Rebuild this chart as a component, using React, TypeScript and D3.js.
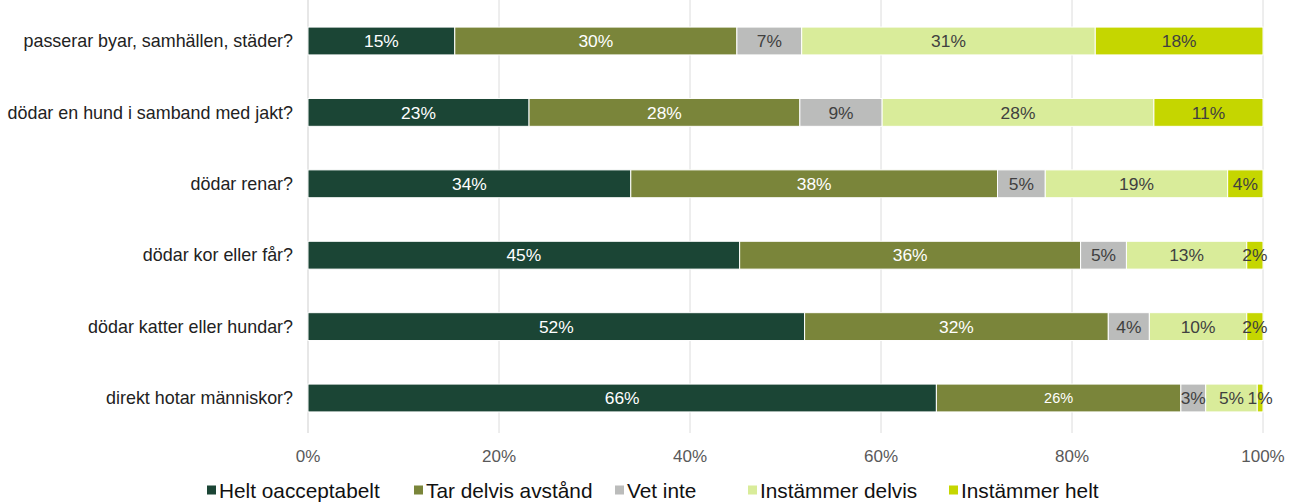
import React from "react";
import * as d3 from "d3";

const categories = [
  "passerar byar, samhällen, städer?",
  "dödar en hund i samband med jakt?",
  "dödar renar?",
  "dödar kor eller får?",
  "dödar katter eller hundar?",
  "direkt hotar människor?",
];
const seriesNames = [
  "Helt oacceptabelt",
  "Tar delvis avstånd",
  "Vet inte",
  "Instämmer delvis",
  "Instämmer helt",
];
const heltOacceptabelt = [15.4, 23.1, 33.8, 45.2, 52.0, 65.8];
const tarDelvisAvstand = [29.6, 28.3, 38.4, 35.7, 31.8, 25.6];
const vetInte = [6.8, 8.6, 5.0, 4.8, 4.3, 2.6];
const instammerDelvis = [30.8, 28.4, 19.1, 12.6, 10.2, 5.4];
const instammerHelt = [17.6, 11.4, 3.7, 1.7, 1.7, 0.6];
const tickValues = [0, 0.2, 0.4, 0.6, 0.8, 1.0];

const colors = ["#1b4535", "#7a853a", "#bbbcbb", "#d9ec9a", "#c5d600"];
const labelColors = ["#ffffff", "#ffffff", "#404040", "#404040", "#404040"];
// one label in the reference is drawn in a smaller size
const smallLabels = [{ row: 5, series: 1 }];

const W = 1298;
const H = 502;
const FONT = "'Liberation Sans', Arial, sans-serif";
const legendX = [207, 414, 615, 748, 949];

export default function App() {
  const series = [heltOacceptabelt, tarDelvisAvstand, vetInte, instammerDelvis, instammerHelt];
  const rows = categories.map((c, i) => {
    const vals = series.map((s) => s[i]);
    const total = d3.sum(vals);
    let acc = 0;
    const segs = vals.map((v, k) => {
      const x0 = acc / total;
      acc += v;
      return { k, v, x0, x1: acc / total };
    });
    return { c, segs };
  });

  const x = d3.scaleLinear().domain([0, 1]).range([308, 1263]);
  const y = d3
    .scaleBand<string>()
    .domain(categories)
    .range([5.3, 433.7])
    .paddingInner(0.61)
    .paddingOuter(0.305);
  const bh = y.bandwidth();

  return (
    <svg
      width={W}
      height={H}
      style={{ position: "absolute", left: 0, top: 0, background: "#fff" }}
      fontFamily={FONT}
    >
      {tickValues.map((t) => (
        <line
          key={"g" + t}
          x1={x(t)}
          x2={x(t)}
          y1={0}
          y2={433}
          stroke={t === 0 ? "#cfcfcf" : "#dcdcdc"}
          strokeWidth={1}
        />
      ))}
      {tickValues.map((t) => (
        <text
          key={"t" + t}
          x={x(t)}
          y={462}
          textAnchor="middle"
          fontSize={17}
          fill="#595959"
        >
          {d3.format(".0%")(t)}
        </text>
      ))}
      {rows.map((r, i) => {
        const yy = y(r.c)!;
        return (
          <g key={r.c}>
            <text
              x={293}
              y={yy + bh / 2}
              dy="0.35em"
              textAnchor="end"
              fontSize={17.9}
              fill="#222"
            >
              {r.c}
            </text>
            {r.segs.map((s) => (
              <rect
                key={s.k}
                x={x(s.x0)}
                y={yy}
                width={x(s.x1) - x(s.x0)}
                height={bh}
                fill={colors[s.k]}
                stroke="#fff"
                strokeWidth={1}
              />
            ))}
            {r.segs.map((s) => {
              const small = smallLabels.some((l) => l.row === i && l.series === s.k);
              return (
                <text
                  key={"l" + s.k}
                  x={(x(s.x0) + x(s.x1)) / 2}
                  y={yy + bh / 2}
                  dy="0.36em"
                  textAnchor="middle"
                  fontSize={small ? 14.5 : 17.4}
                  fill={labelColors[s.k]}
                >
                  {Math.round(s.v) + "%"}
                </text>
              );
            })}
          </g>
        );
      })}
      {seriesNames.map((n, k) => (
        <g key={n} transform={`translate(${legendX[k]},490)`}>
          <rect x={0} y={-4.5} width={9} height={9} fill={colors[k]} />
          <text x={12} y={0} dy="0.36em" fontSize={20.8} fill="#111">
            {n}
          </text>
        </g>
      ))}
    </svg>
  );
}
